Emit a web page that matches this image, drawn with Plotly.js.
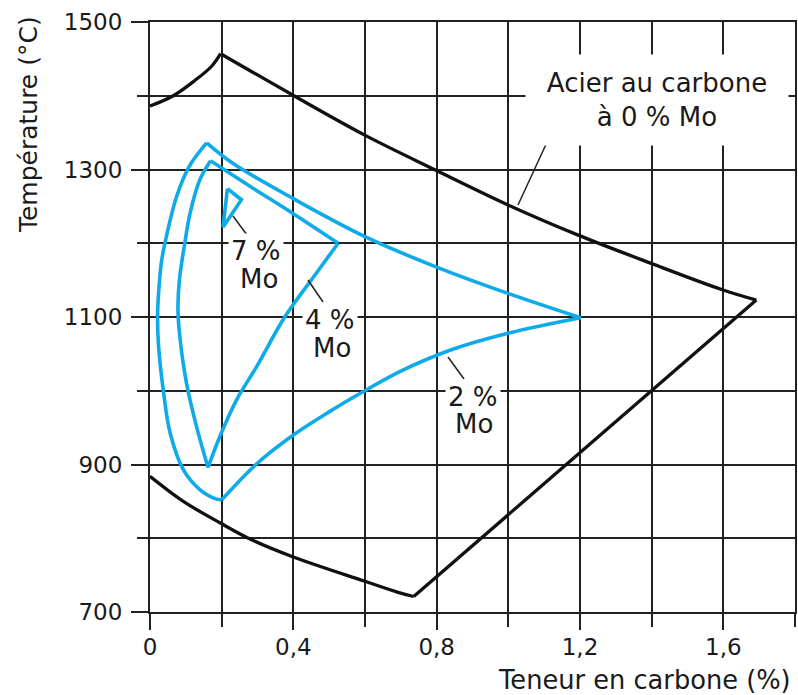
<!DOCTYPE html>
<html>
<head>
<meta charset="utf-8">
<script src="https://cdn.plot.ly/plotly-3.0.1.min.js"></script>
<style>html,body{margin:0;padding:0;background:#fff;}#chart{width:798px;height:695px;}</style>
</head>
<body>
<div id="chart"></div>
<script>
// ---- Data (teneur en carbone %, température °C) ----
// Acier au carbone à 0 % Mo
const c0RiseX  = [0, 0.065, 0.126, 0.172, 0.197];
const c0RiseY  = [1386, 1400, 1421, 1440, 1457];
const c0UpperX = [0.197, 0.398, 0.598, 0.798, 0.999, 1.195, 1.397, 1.597, 1.692];
const c0UpperY = [1457, 1401, 1347, 1299, 1252, 1211, 1173, 1137, 1123];
const c0RightX = [1.692, 0.736];
const c0RightY = [1123, 721];
const c0LowerX = [0.736, 0.697, 0.598, 0.398, 0.279, 0.195, 0.093, 0];
const c0LowerY = [721, 726, 742, 775, 799, 821, 850, 884];
// 2 % Mo
const m2UpperX = [0.158, 0.232, 0.398, 0.6, 0.798, 0.999, 1.202];
const m2UpperY = [1336, 1308, 1261, 1209, 1168, 1132, 1099];
const m2LowerX = [1.202, 0.999, 0.837, 0.697, 0.614, 0.502, 0.4, 0.298, 0.2];
const m2LowerY = [1099, 1078, 1055, 1026, 1004, 972, 940, 901, 852];
const m2LeftX  = [0.2, 0.186, 0.139, 0.093, 0.056, 0.037, 0.024, 0.021, 0.025, 0.032, 0.047, 0.074, 0.108, 0.158];
const m2LeftY  = [852, 853, 866, 893, 943, 1001, 1060, 1100, 1140, 1175, 1212, 1263, 1303, 1336];
// 4 % Mo
const m4UpperX = [0.169, 0.28, 0.4, 0.525];
const m4UpperY = [1312, 1277, 1240, 1200];
const m4RightX = [0.525, 0.465, 0.376, 0.298, 0.242, 0.195, 0.162];
const m4RightY = [1200, 1160, 1100, 1033, 988, 938, 896];
const m4LeftX  = [0.162, 0.130, 0.102, 0.084, 0.078, 0.082, 0.097, 0.112, 0.139, 0.169];
const m4LeftY  = [896, 951, 1010, 1070, 1110, 1150, 1200, 1241, 1286, 1312];
// 7 % Mo
const m7X = [0.216, 0.255, 0.204, 0.216];
const m7Y = [1274, 1259, 1222, 1274];

// ---- Axis ticks ----
const xTickVals = [0, 0.4, 0.8, 1.2, 1.6];
const xTickText = ['0', '0,4', '0,8', '1,2', '1,6'];
const yTickVals = [700, 900, 1100, 1300, 1500];
const yTickText = ['700', '900', '1100', '1300', '1500'];

const BLUE = '#0faaea';
const BLACK = '#111111';
const FONT = 'DejaVu Sans';

function seg(x, y, color, width, shape) {
  return {x: x, y: y, type: 'scatter', mode: 'lines', hoverinfo: 'skip', showlegend: false,
          line: {color: color, width: width, shape: shape || 'spline', smoothing: 1}};
}

const traces = [
  seg(c0RiseX, c0RiseY, BLACK, 3.3),
  seg(c0UpperX, c0UpperY, BLACK, 3.3),
  seg(c0RightX, c0RightY, BLACK, 3.3, 'linear'),
  seg(c0LowerX, c0LowerY, BLACK, 3.3),
  seg(m2UpperX, m2UpperY, BLUE, 3.6),
  seg(m2LowerX, m2LowerY, BLUE, 3.6),
  seg(m2LeftX, m2LeftY, BLUE, 3.6),
  seg(m4UpperX, m4UpperY, BLUE, 3.6),
  seg(m4RightX, m4RightY, BLUE, 3.6),
  seg(m4LeftX, m4LeftY, BLUE, 3.6),
  seg(m7X, m7Y, BLUE, 3.6, 'linear')
];

const GRID = '#222222';

function lbl(text, x, y, opts) {
  return Object.assign({text: text, x: x, y: y, xref: 'x', yref: 'y', showarrow: false,
    xanchor: 'center', yanchor: 'middle', bgcolor: '#ffffff', borderpad: 2,
    font: {family: FONT, size: 26, color: '#1a1a1a'}}, opts || {});
}

function leader(x0, y0, x1, y1) {
  return {type: 'line', xref: 'x', yref: 'y', x0: x0, y0: y0, x1: x1, y1: y1,
          line: {color: '#222', width: 1.5}, layer: 'above'};
}

const layout = {
  width: 798, height: 695,
  margin: {l: 150, r: 3, t: 22, b: 83, pad: 0},
  paper_bgcolor: '#ffffff', plot_bgcolor: '#ffffff',
  showlegend: false,
  font: {family: FONT, size: 23, color: '#1a1a1a'},
  xaxis: {
    range: [0, 1.8], tickmode: 'array', tickvals: xTickVals, ticktext: xTickText,
    ticks: 'outside', ticklen: 16, tickwidth: 2, tickcolor: GRID,
    showgrid: true, gridcolor: GRID, gridwidth: 2, zeroline: false,
    showline: true, linecolor: GRID, linewidth: 2, mirror: true,
    tickfont: {family: FONT, size: 23, color: '#1a1a1a'},
    ticklabelstandoff: -3,
    minor: {dtick: 0.2, tick0: 0, ticks: 'outside', ticklen: 13, tickwidth: 2, tickcolor: GRID,
            showgrid: true, gridcolor: GRID, gridwidth: 2},
    fixedrange: true
  },
  yaxis: {
    range: [700, 1500], tickmode: 'array', tickvals: yTickVals, ticktext: yTickText,
    ticks: 'outside', ticklen: 17, tickwidth: 2, tickcolor: GRID,
    showgrid: true, gridcolor: GRID, gridwidth: 2, zeroline: false,
    showline: true, linecolor: GRID, linewidth: 2, mirror: true,
    tickfont: {family: FONT, size: 23, color: '#1a1a1a'},
    ticklabelstandoff: 4,
    minor: {dtick: 100, tick0: 700, ticks: 'outside', ticklen: 11, tickwidth: 2, tickcolor: GRID,
            showgrid: true, gridcolor: GRID, gridwidth: 2},
    fixedrange: true
  },
  shapes: [
    leader(1.1275, 1357.6, 1.027, 1251.9),
    leader(0.2316, 1236.9, 0.2707, 1211.2),
    leader(0.4409, 1150.2, 0.4828, 1120.3),
    leader(0.8316, 1045.8, 0.8763, 1015.9)
  ],
  annotations: [
    lbl('Acier au carbone<br>à 0 % Mo', 1.415, 1394, {width: 262, height: 90, borderpad: 0}),
    lbl('7 %', 0.2958, 1189),
    lbl('Mo', 0.3042, 1152, {bgcolor: 'rgba(0,0,0,0)', borderpad: 0}),
    lbl('4 %', 0.5023, 1096),
    lbl('Mo', 0.5079, 1058.5, {bgcolor: 'rgba(0,0,0,0)', borderpad: 0}),
    lbl('2 %', 0.9014, 992),
    lbl('Mo', 0.9042, 955.5, {bgcolor: 'rgba(0,0,0,0)', borderpad: 0}),
    {text: 'Teneur en carbone (%)', xref: 'paper', yref: 'paper', x: 0.9953, y: -0.1153,
     xanchor: 'right', yanchor: 'middle', showarrow: false, borderpad: 0,
     font: {family: FONT, size: 25.7, color: '#1a1a1a'}},
    {text: 'Température (°C)', xref: 'paper', yref: 'paper', x: -0.189, y: 0.8254,
     xanchor: 'center', yanchor: 'middle', showarrow: false, textangle: -90,
     font: {family: FONT, size: 25, color: '#1a1a1a'}}
  ]
};

Plotly.newPlot('chart', traces, layout, {displayModeBar: false, staticPlot: true});
</script>
</body>
</html>
